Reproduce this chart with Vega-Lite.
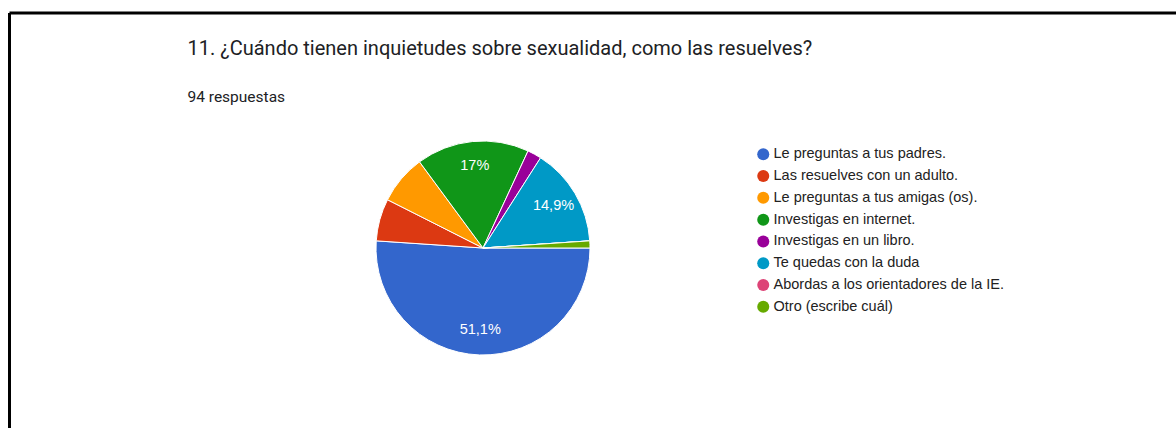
{
  "$schema": "https://vega.github.io/schema/vega-lite/v6.json",
  "width": 1166.5,
  "height": 415,
  "autosize": {"type": "none"},
  "padding": {"left": 9.5, "top": 13, "right": 0, "bottom": 0},
  "background": "white",
  "config": {
    "view": {"stroke": null},
    "font": "Liberation Sans"
  },
  "title": {
    "text": "11. ¿Cuándo tienen inquietudes sobre sexualidad, como las resuelves?",
    "subtitle": "94 respuestas",
    "anchor": "start",
    "frame": "group",
    "orient": "top",
    "dx": 178,
    "offset": -94,
    "font": "Roboto",
    "fontSize": 20,
    "fontWeight": "normal",
    "color": "#202124",
    "subtitleFont": "Roboto",
    "subtitleFontSize": 15.5,
    "subtitleColor": "#202124",
    "subtitlePadding": 31
  },
  "data": {
    "values": [
      {"orden": 1, "opcion": "Le preguntas a tus padres.", "n": 48, "etiqueta": "51,1%"},
      {"orden": 2, "opcion": "Las resuelves con un adulto.", "n": 6, "etiqueta": ""},
      {"orden": 3, "opcion": "Le preguntas a tus amigas (os).", "n": 7, "etiqueta": ""},
      {"orden": 4, "opcion": "Investigas en internet.", "n": 16, "etiqueta": "17%"},
      {"orden": 5, "opcion": "Investigas en un libro.", "n": 2, "etiqueta": ""},
      {"orden": 6, "opcion": "Te quedas con la duda", "n": 14, "etiqueta": "14,9%"},
      {"orden": 7, "opcion": "Abordas a los orientadores de la IE.", "n": 0, "etiqueta": ""},
      {"orden": 8, "opcion": "Otro (escribe cuál)", "n": 1, "etiqueta": ""}
    ]
  },
  "layer": [
    {
      "data": {"values": [{"borde": "superior"}]},
      "mark": {"type": "rule", "color": "black", "strokeWidth": 3},
      "encoding": {
        "y": {"datum": 1, "type": "quantitative", "scale": {"domain": [0, 1], "nice": false, "zero": false}, "axis": null}
      }
    },
    {
      "data": {"values": [{"borde": "izquierdo"}]},
      "mark": {"type": "rule", "color": "black", "strokeWidth": 3},
      "encoding": {
        "x": {"datum": 0, "type": "quantitative", "scale": {"domain": [0, 1], "nice": false, "zero": false}, "axis": null}
      }
    },
    {
      "mark": {"type": "arc", "outerRadius": 107, "x": 473.5, "y": 235, "stroke": "white", "strokeWidth": 1},
      "encoding": {
        "theta": {"field": "n", "type": "quantitative", "stack": true, "scale": {"range": [1.5707963, 7.8539816]}},
        "order": {"field": "orden", "type": "quantitative"},
        "color": {
          "field": "opcion",
          "type": "nominal",
          "sort": null,
          "scale": {
            "domain": ["Le preguntas a tus padres.", "Las resuelves con un adulto.", "Le preguntas a tus amigas (os).", "Investigas en internet.", "Investigas en un libro.", "Te quedas con la duda", "Abordas a los orientadores de la IE.", "Otro (escribe cuál)"],
            "range": ["#3366cc", "#dc3912", "#ff9900", "#109618", "#990099", "#0099c6", "#dd4477", "#66aa00"]
          },
          "legend": {
            "title": null,
            "orient": "none",
            "legendX": 746.5,
            "legendY": 134,
            "symbolType": "circle",
            "symbolSize": 145,
            "symbolStrokeWidth": 0,
            "symbolOpacity": 1,
            "labelFont": "Liberation Sans",
            "labelFontSize": 14.5,
            "labelColor": "#222222",
            "labelOffset": 3,
            "rowPadding": 6.8,
            "labelLimit": 400
          }
        }
      }
    },
    {
      "mark": {"type": "text", "radius": 82, "x": 473.5, "y": 235, "color": "white", "fontSize": 14.5, "font": "Liberation Sans"},
      "encoding": {
        "theta": {"field": "n", "type": "quantitative", "stack": true, "scale": {"range": [1.5707963, 7.8539816]}},
        "order": {"field": "orden", "type": "quantitative"},
        "text": {"field": "etiqueta", "type": "nominal"}
      }
    }
  ]
}
